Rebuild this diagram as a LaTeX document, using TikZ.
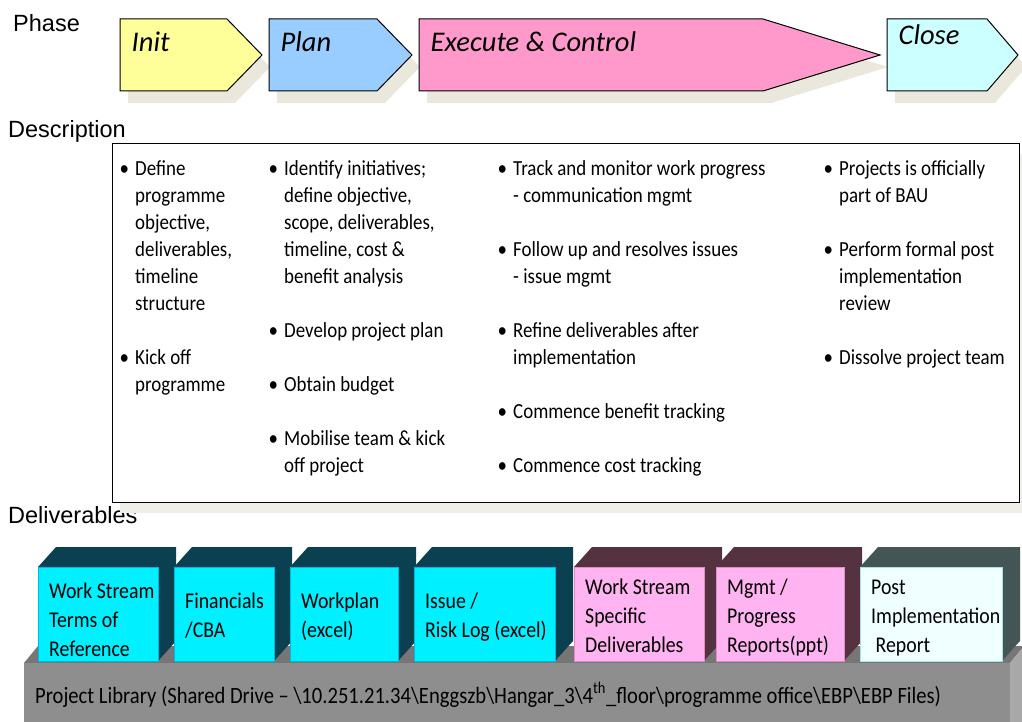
\documentclass[tikz,border=0pt]{standalone}
\usepackage{fontspec}
\setmainfont{Carlito}[FakeStretch=0.88]
\newfontfamily\phasefont{Carlito}
\newfontfamily\labelfont{Liberation Sans}
\usetikzlibrary{positioning}

\definecolor{colinit}{HTML}{FFFF99}
\definecolor{colplan}{HTML}{99CCFF}
\definecolor{colexec}{HTML}{FF99CC}
\definecolor{colclose}{HTML}{CCFFFF}
\definecolor{colshadow}{HTML}{EAE7DD}
\definecolor{colboxshadow}{HTML}{F0EEE8}
\definecolor{cyanfront}{HTML}{00F0FF}
\definecolor{cyanedge}{HTML}{00B8E8}
\definecolor{cyanback}{HTML}{0A4050}
\definecolor{pinkfront}{HTML}{FFB3F0}
\definecolor{pinkedge}{HTML}{E58AC8}
\definecolor{pinkback}{HTML}{55323F}
\definecolor{lightfront}{HTML}{F0FFFF}
\definecolor{lightedge}{HTML}{A6E3E3}
\definecolor{lightback}{HTML}{445555}
\definecolor{slabfront}{HTML}{8E8E8E}
\definecolor{slabtop}{HTML}{767676}
\definecolor{slabside}{HTML}{A8A8A8}

\newcommand{\descbullet}{\makebox[13pt][l]{\hspace*{-2.5pt}\textbullet}}
\newcommand{\descindent}{\hspace*{13pt}}

\tikzset{
        % Row titles
        label_text/.style={anchor=base west, inner sep=0pt, font=\labelfont\fontsize{23.5}{28}\selectfont},
        % Phase arrows
        phase_arrow/.style={draw=black, line width=1pt, line join=miter},
        phase_shadow/.style={fill=colshadow},
        phase_text/.style={anchor=base west, inner sep=0pt, font=\phasefont\itshape\fontsize{28.5}{34}\selectfont},
        % Description box
        desc_box/.style={draw=black, line width=1.2pt, fill=white, inner sep=0pt, anchor=north west},
        desc_text/.style={anchor=north west, align=left, inner sep=0pt, font=\fontsize{21.5}{27}\selectfont},
        % Deliverable blocks
        deliv_front/.style={anchor=north west, inner sep=0pt, line width=1pt, minimum height=94},
        deliv_text/.style={anchor=north west, align=left, inner sep=0pt, font=\fontsize{22.5}{29}\selectfont},
        cyan_front/.style={deliv_front, fill=cyanfront, draw=cyanedge},
        cyan_back/.style={fill=cyanback},
        pink_front/.style={deliv_front, fill=pinkfront, draw=pinkedge},
        pink_back/.style={fill=pinkback},
        light_front/.style={deliv_front, fill=lightfront, draw=lightedge},
        light_back/.style={fill=lightback},
        % Project library
        lib_text/.style={anchor=base west, inner sep=0pt, font=\fontsize{23.4}{28}\selectfont}
}

\begin{document}
\begin{tikzpicture}[x=1pt, y=-1pt]
        \useasboundingbox (0,0) rectangle (1022,722);

        \node[label_text] (phase-label) at (13,32) {Phase};
        \node[label_text] (desc-label) at (8,138) {Description};
        \node[label_text] (deliv-label) at (8,523) {Deliverables};

        % phases
        \foreach \xa/\xb/\xc in {120/227/262, 269/377/412, 419/763/880, 887/987/1018}
            \fill[phase_shadow, shift={(8,12)}] (\xa,19) -- (\xb,19) -- (\xc,55) -- (\xb,91) -- (\xa,91) -- cycle;
        \foreach \xa/\xb/\xc/\col/\ty/\txt in {120/227/262/colinit/52/Init, 269/377/412/colplan/52/Plan,
                419/763/880/colexec/52/{Execute \& Control}, 887/987/1018/colclose/45/Close}
        {
            \draw[phase_arrow, fill=\col] (\xa,19) -- (\xb,19) -- (\xc,55) -- (\xb,91) -- (\xa,91) -- cycle;
            \node[phase_text] (phase-\xa) at (\xa+11.5,\ty) {\txt};
        }

        % description
        \fill[colboxshadow] (120,154) rectangle (1022,513);
        \node[desc_box, minimum width=907, minimum height=359] (desc) at (112,143) {};
        \node[desc_text] (desc-init) at (122,156.1) {\strut\descbullet Define\\ \descindent programme\\
            \descindent objective,\\ \descindent deliverables,\\ \descindent timeline\\ \descindent structure\\[27pt]
            \descbullet Kick off\\ \descindent programme};
        \node[desc_text] (desc-plan) at (271,156.1) {\strut\descbullet Identify initiatives;\\ \descindent define objective,\\
            \descindent scope, deliverables,\\ \descindent timeline, cost \&\\ \descindent benefit analysis\\[27pt]
            \descbullet Develop project plan\\[27pt]
            \descbullet Obtain budget\\[27pt]
            \descbullet Mobilise team \& kick\\ \descindent off project};
        \node[desc_text] (desc-exec) at (500,156.1) {\strut\descbullet Track and monitor work progress\\
            \descindent - communication mgmt\\[27pt]
            \descbullet Follow up and resolves issues\\ \descindent - issue mgmt\\[27pt]
            \descbullet Refine deliverables after\\ \descindent implementation\\[27pt]
            \descbullet Commence benefit tracking\\[27pt]
            \descbullet Commence cost tracking};
        \node[desc_text] (desc-close) at (826,156.1) {\strut\descbullet Projects is officially\\ \descindent part of BAU\\[27pt]
            \descbullet Perform formal post\\ \descindent implementation\\ \descindent review\\[27pt]
            \descbullet Dissolve project team};

        % project library slab
        \fill[slabtop] (24,663) -- (38,646) -- (1024,646) -- (1010,663) -- cycle;
        \fill[slabside] (1010,663) -- (1024,646) -- (1024,722) -- (1010,722) -- cycle;
        \fill[slabfront] (24,663) rectangle (1010,722);
        \node[lib_text] (library) at (35,703) {Project Library (Shared Drive -- \textbackslash 10.251.21.34\textbackslash
            Enggszb\textbackslash Hangar\_3\textbackslash 4\textsuperscript{th}\_floor\textbackslash programme
            office\textbackslash EBP\textbackslash EBP Files)};

        % deliverables
        \foreach \xl/\xr/\sty/\ty/\txt [count=\i] in {
                38/158/cyan/598/{Work Stream\\Terms of\\Reference},
                174/274/cyan/608/{Financials\\/CBA},
                290/398/cyan/608/{Workplan\\(excel)},
                414/555/cyan/608/{Issue /\\Risk Log (excel)},
                574/704/pink/594/{Work Stream\\Specific\\Deliverables},
                716/844/pink/594/{Mgmt /\\Progress\\Reports(ppt)},
                860/1002/light/594/{Post\\Implementation\\\hspace*{4.5pt}Report}}
        {
            \fill[\sty_back] (\xl,567) -- ++(18,-20) -- (\xr+18,547) -- (\xr+18,641) -- (\xr,661) -- (\xr,567) -- cycle;
            \node[\sty_front, minimum width={\xr-\xl}] (box-\i) at (\xl,567) {};
            \node[deliv_text] (deliv-\i) at (\xl+11,\ty-20.3) {\strut\txt};
        }
\end{tikzpicture}
\end{document}
